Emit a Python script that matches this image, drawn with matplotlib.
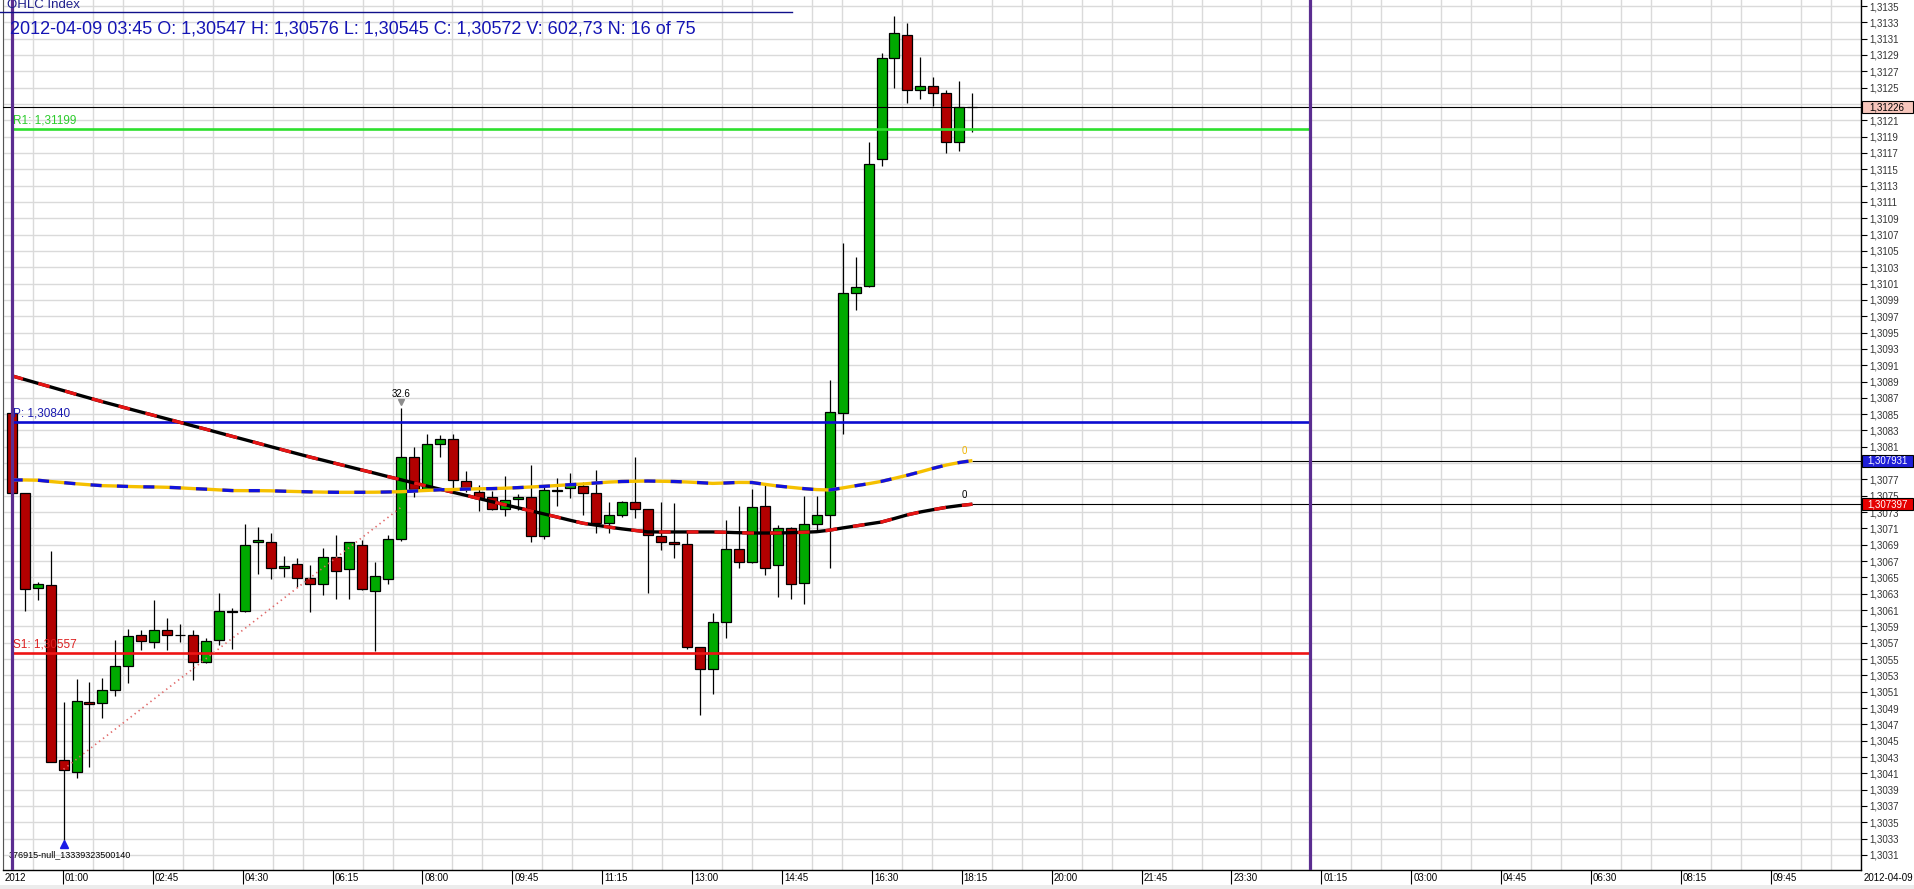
import numpy as np
import matplotlib
matplotlib.use("Agg")
import matplotlib.pyplot as plt
import matplotlib.transforms as mtransforms
from matplotlib.patches import Rectangle
from matplotlib.lines import Line2D
from matplotlib import font_manager

# 15 minute EUR/USD bars, 2012-04-09 (bar 0 = 00:00)
opens = [1.30852, 1.30753, 1.30637, 1.30641, 1.30426, 1.30412, 1.30498, 1.30496, 1.30512, 1.30541,
         1.30580, 1.30571, 1.30585, 1.30579, 1.30579, 1.30547, 1.30573, 1.30608, 1.30609, 1.30693,
         1.30693, 1.30662, 1.30667, 1.30649, 1.30642, 1.30675, 1.30660, 1.30690, 1.30633, 1.30648,
         1.30697, 1.30797, 1.30758, 1.30814, 1.30820, 1.30768, 1.30755, 1.30748, 1.30734, 1.30746,
         1.30748, 1.30701, 1.30756, 1.30759, 1.30762, 1.30754, 1.30717, 1.30726, 1.30742, 1.30734,
         1.30701, 1.30693, 1.30691, 1.30565, 1.30538, 1.30595, 1.30685, 1.30669, 1.30737, 1.30665,
         1.30711, 1.30643, 1.30716, 1.30727, 1.30852, 1.30999, 1.31007, 1.31162, 1.31286, 1.31315,
         1.31247, 1.31252, 1.31243, 1.31183, 1.31226]
highs = [1.30853, 1.30754, 1.30644, 1.30682, 1.30497, 1.30526, 1.30522, 1.30527, 1.30573, 1.30587,
         1.30586, 1.30622, 1.30600, 1.30593, 1.30586, 1.30576, 1.30631, 1.30613, 1.30716, 1.30712,
         1.30704, 1.30676, 1.30674, 1.30665, 1.30686, 1.30702, 1.30694, 1.30696, 1.30669, 1.30702,
         1.30857, 1.30810, 1.30826, 1.30825, 1.30826, 1.30780, 1.30763, 1.30756, 1.30774, 1.30752,
         1.30788, 1.30761, 1.30772, 1.30778, 1.30767, 1.30781, 1.30742, 1.30744, 1.30798, 1.30734,
         1.30742, 1.30741, 1.30708, 1.30565, 1.30607, 1.30720, 1.30738, 1.30758, 1.30765, 1.30714,
         1.30712, 1.30750, 1.30750, 1.30892, 1.31060, 1.31042, 1.31183, 1.31293, 1.31338, 1.31329,
         1.31287, 1.31263, 1.31247, 1.31258, 1.31243]
lows = [1.30753, 1.30609, 1.30622, 1.30424, 1.30328, 1.30404, 1.30418, 1.30478, 1.30505, 1.30521,
        1.30561, 1.30564, 1.30561, 1.30571, 1.30524, 1.30545, 1.30567, 1.30562, 1.30608, 1.30654,
        1.30648, 1.30650, 1.30638, 1.30608, 1.30629, 1.30624, 1.30624, 1.30635, 1.30560, 1.30642,
        1.30695, 1.30749, 1.30757, 1.30797, 1.30759, 1.30755, 1.30731, 1.30733, 1.30725, 1.30732,
        1.30693, 1.30697, 1.30738, 1.30747, 1.30727, 1.30705, 1.30705, 1.30724, 1.30723, 1.30631,
        1.30684, 1.30674, 1.30562, 1.30482, 1.30507, 1.30576, 1.30662, 1.30668, 1.30653, 1.30626,
        1.30623, 1.30617, 1.30708, 1.30661, 1.30826, 1.30978, 1.31006, 1.31154, 1.31250, 1.31231,
        1.31236, 1.31227, 1.31170, 1.31172, 1.31196]
closes = [1.30754, 1.30636, 1.30642, 1.30424, 1.30414, 1.30499, 1.30495, 1.30512, 1.30542, 1.30578,
          1.30572, 1.30585, 1.30579, 1.30580, 1.30547, 1.30572, 1.30609, 1.30609, 1.30690, 1.30696,
          1.30661, 1.30664, 1.30649, 1.30642, 1.30675, 1.30658, 1.30693, 1.30636, 1.30652, 1.30697,
          1.30797, 1.30758, 1.30814, 1.30820, 1.30769, 1.30759, 1.30747, 1.30734, 1.30745, 1.30748,
          1.30701, 1.30757, 1.30757, 1.30764, 1.30754, 1.30717, 1.30726, 1.30742, 1.30734, 1.30702,
          1.30694, 1.30691, 1.30565, 1.30538, 1.30595, 1.30685, 1.30669, 1.30736, 1.30662, 1.30711,
          1.30642, 1.30716, 1.30727, 1.30853, 1.30999, 1.31006, 1.31157, 1.31286, 1.31317, 1.31247,
          1.31252, 1.31244, 1.31184, 1.31226, 1.31226]

# moving averages
ma_slow = [1.308970, 1.308925, 1.308879, 1.308834, 1.308788, 1.308742, 1.308697, 1.308652, 1.308610, 1.308567,
           1.308525, 1.308483, 1.308441, 1.308398, 1.308355, 1.308314, 1.308271, 1.308228, 1.308186, 1.308143,
           1.308100, 1.308058, 1.308016, 1.307974, 1.307935, 1.307895, 1.307855, 1.307815, 1.307776, 1.307735,
           1.307696, 1.307657, 1.307619, 1.307581, 1.307543, 1.307505, 1.307466, 1.307428, 1.307390, 1.307353,
           1.307315, 1.307278, 1.307240, 1.307201, 1.307164, 1.307141, 1.307117, 1.307095, 1.307076, 1.307058,
           1.307057, 1.307057, 1.307057, 1.307057, 1.307057, 1.307053, 1.307048, 1.307044, 1.307044, 1.307044,
           1.307048, 1.307053, 1.307060, 1.307079, 1.307106, 1.307130, 1.307155, 1.307179, 1.307222, 1.307267,
           1.307302, 1.307331, 1.307359, 1.307380, 1.307397]
ma_fast = [1.307694, 1.307694, 1.307691, 1.307675, 1.307661, 1.307647, 1.307635, 1.307624, 1.307620, 1.307614,
           1.307610, 1.307608, 1.307604, 1.307597, 1.307588, 1.307581, 1.307572, 1.307564, 1.307563, 1.307563,
           1.307561, 1.307556, 1.307552, 1.307548, 1.307545, 1.307543, 1.307543, 1.307543, 1.307544, 1.307547,
           1.307550, 1.307558, 1.307566, 1.307574, 1.307577, 1.307582, 1.307586, 1.307588, 1.307593, 1.307600,
           1.307608, 1.307616, 1.307626, 1.307636, 1.307645, 1.307657, 1.307668, 1.307675, 1.307678, 1.307681,
           1.307678, 1.307675, 1.307669, 1.307661, 1.307652, 1.307657, 1.307664, 1.307663, 1.307641, 1.307620,
           1.307604, 1.307588, 1.307576, 1.307571, 1.307596, 1.307623, 1.307648, 1.307677, 1.307714, 1.307752,
           1.307794, 1.307838, 1.307877, 1.307908, 1.307931]

pivot_names = ["R1", "P", "S1"]
pivot_levels = [1.31199, 1.30840, 1.30557]
pivot_colors = ["#2ee02e", "#0c0cd0", "#ee1414"]
pivot_text_colors = ["#2ccc2c", "#1a1ab0", "#dd2020"]

session_breaks = [0, 100]
last_price = 1.31226

time_labels = ["01:00", "02:45", "04:30", "06:15", "08:00", "09:45", "11:15", "13:00", "14:45", "16:30",
               "18:15", "20:00", "21:45", "23:30", "01:15", "03:00", "04:45", "06:30", "08:15", "09:45"]

trend_bars = [4, 30]
trend_prices = [1.30415, 1.30736]

signal_bar = 4
signal_text = "376915-null_13339323500140"
peak_bar = 30
peak_text = "32.6"

header = "2012-04-09 03:45 O: 1,30547 H: 1,30576 L: 1,30545 C: 1,30572 V: 602,73 N: 16 of 75"

# fonts
names = {f.name for f in font_manager.fontManager.ttflist}
narrow = "Liberation Sans Narrow" if "Liberation Sans Narrow" in names else "Liberation Sans"
small_fs = 8 if narrow == "Liberation Sans Narrow" else 7
plt.rcParams['font.family'] = 'Liberation Sans'
plt.rcParams['lines.scale_dashes'] = False

# layout (pixels of a 1915x889 canvas)
W, H = 1915, 889
bar_px = 13.0
fig = plt.figure(figsize=(W / 100, H / 100), dpi=100)
ax = fig.add_axes([3 / W, 19 / H, 1858 / W, 870 / H])

x_left = -0.485
ax.set_xlim(x_left, x_left + 1858 / bar_px)
ax.set_ylim(1.302916, 1.3135735)
px_per_unit = 870 / (1.3135735 - 1.302916)

idx = np.arange(len(closes))
o = np.array(opens)
c = np.array(closes)

# grid: vertical every 30 px, labels every third line
grid_x = (0.7 + 30 * np.arange(63) - 9.3) / bar_px
label_x = grid_x[2::3][:len(time_labels)]
ax.set_xticks(grid_x, minor=True)
ax.set_xticks(label_x)
ax.xaxis.grid(True, which='minor', color='#dadada', lw=1)
ax.tick_params(axis='x', which='minor', length=0)
ax.tick_params(axis='x', which='major', length=10, width=0.8, color='black',
               direction='out', labelbottom=False)

# price boxes that sit on the right axis (they hide the scale labels under them)
boxes = [(last_price, f"{last_price:.5f}", '#f7c6bc', 'black'),
         (ma_fast[-1], f"{ma_fast[-1]:.6f}", '#1f1fd8', 'white'),
         (ma_slow[-1], f"{ma_slow[-1]:.6f}", '#e60000', 'white')]
bh = 12 / px_per_unit

yticks = np.round(np.arange(1.3031, 1.31352, 0.0002), 4)
ylabels = []
for v in yticks:
    hidden = any(abs(v - b[0]) < bh * 0.6 for b in boxes)
    ylabels.append("" if hidden else f"{v:.4f}".replace('.', ','))
ax.yaxis.tick_right()
ax.set_yticks(yticks)
ax.set_yticklabels(ylabels, fontsize=small_fs, family=narrow, color='#333333')
ax.tick_params(axis='y', length=4, width=0.8, pad=2)
ax.yaxis.grid(True, color='#dadada', lw=1)
ax.set_axisbelow(True)

ax.spines['top'].set_visible(False)
ax.spines['left'].set_color('#555555')
ax.spines['right'].set_linewidth(1)
ax.spines['bottom'].set_linewidth(1)

# candles
up = c >= o
body_lo = np.minimum(o, c)
body_h = np.maximum(np.abs(c - o), 0.000003)
ax.vlines(idx, lows, highs, color='black', lw=0.9, zorder=3)
ax.bar(idx, body_h, bottom=body_lo, width=0.77,
       color=np.where(up, '#00aa00', '#b20000'), edgecolor='black', linewidth=0.9, zorder=4)

# session separators and pivot levels
for sb in session_breaks:
    ax.axvline(sb, color='#5b2d90', lw=2.3, zorder=7)
for name, lvl, col, tcol in zip(pivot_names, pivot_levels, pivot_colors, pivot_text_colors):
    ax.hlines(lvl, session_breaks[0], session_breaks[1], color=col, lw=1.9, zorder=6)
    ax.annotate(f"{name}: {lvl:.5f}".replace('.', ','), xy=(session_breaks[0], lvl),
                xytext=(1.3, 2.0), textcoords='offset points', color=tcol,
                fontsize=8.5, ha='left', va='bottom', zorder=8)

# last price and MA end lines
ax.axhline(last_price, color='black', lw=0.8, zorder=5)
ax.hlines([ma_fast[-1], ma_slow[-1]], idx[-1], ax.get_xlim()[1], color='black', lw=0.8, zorder=5)

# moving averages: two-colour dashed lines
ax.plot(idx, ma_slow, color='black', lw=2.4, solid_capstyle='butt', zorder=6)
ax.plot(idx, ma_slow, color='#e81414', lw=2.4, dashes=(8.5, 11.5), dash_capstyle='butt', zorder=6)
ax.plot(idx, ma_fast, color='#f5c000', lw=2.4, solid_capstyle='butt', zorder=6)
ax.plot(idx, ma_fast, color='#1212dc', lw=2.4, dashes=(8, 11), dash_capstyle='butt', zorder=6)
ax.annotate('0', xy=(idx[-1], ma_fast[-1]), xytext=(-6, 3), textcoords='offset points',
            color='#f0b400', fontsize=7, ha='center', va='bottom')
ax.annotate('0', xy=(idx[-1], ma_slow[-1]), xytext=(-6, 3), textcoords='offset points',
            color='black', fontsize=7, ha='center', va='bottom')

# trend line
ax.plot(trend_bars, trend_prices, color='#e06868', lw=1.2, ls=(0, (1, 2.6)), zorder=6)

# signal marker under the low
down = ax.transData + mtransforms.ScaledTranslation(0, -3 / 72, fig.dpi_scale_trans)
ax.plot(signal_bar, lows[signal_bar], marker='^', color='#1a1ae6', ms=6, transform=down, zorder=8)
ax.annotate(signal_text, xy=(signal_bar, lows[signal_bar]), xytext=(-39.5, -12.3),
            textcoords='offset points', fontsize=6.5, color='black', ha='left', va='baseline')

# peak annotation
upx = ax.transData + mtransforms.ScaledTranslation(0, 5 / 72, fig.dpi_scale_trans)
ax.plot(peak_bar, highs[peak_bar], marker='v', color='#8c8c8c', ms=5, transform=upx, zorder=8)
ax.annotate(peak_text, xy=(peak_bar, highs[peak_bar]), xytext=(0, 10.5), textcoords='offset points',
            fontsize=7, color='black', ha='center', va='center')

# draw the price boxes
box_tr = mtransforms.blended_transform_factory(ax.transAxes, ax.transData)
bx = 1.0003
bw = 51 / 1858
for price, txt, face, tcol in boxes:
    ax.add_patch(Rectangle((bx, price - bh / 2), bw, bh, transform=box_tr, facecolor=face,
                           edgecolor='black', lw=0.8, clip_on=False, zorder=10))
    ax.text(bx + bw / 2, price, txt.replace('.', ','), transform=box_tr, ha='center', va='center',
            fontsize=small_fs, family=narrow, color=tcol, zorder=11, clip_on=False)

# time labels beside the separator ticks
lab_tr = mtransforms.blended_transform_factory(ax.transData, ax.transAxes)
for xp, lab in zip(label_x, time_labels):
    ax.text(xp + 0.15, -0.003, lab, transform=lab_tr, ha='left', va='top',
            fontsize=small_fs, family=narrow, color='black')
ax.text(0.001, -0.003, "2012", transform=ax.transAxes, ha='left', va='top',
        fontsize=small_fs, family=narrow, color='black')
ax.text(1.0012, -0.003, "2012-04-09", transform=ax.transAxes, ha='left', va='top',
        fontsize=small_fs, family=narrow, color='black')

# header
fig.text(7 / W, 1 - 8.5 / H, "OHLC Index", fontsize=9.5, color='#20208c', va='baseline', ha='left')
fig.add_artist(Line2D([0, 792 / W], [1 - 11.7 / H] * 2, transform=fig.transFigure, color='#10108a', lw=1))
fig.text(10 / W, 1 - 33 / H, header, fontsize=13, color='#1414b4', va='baseline', ha='left')

fig.add_artist(Rectangle((0, 0), 1, 4 / H, transform=fig.transFigure, facecolor='#ececec', edgecolor='none'))

fig.savefig('out.png', dpi=100)
